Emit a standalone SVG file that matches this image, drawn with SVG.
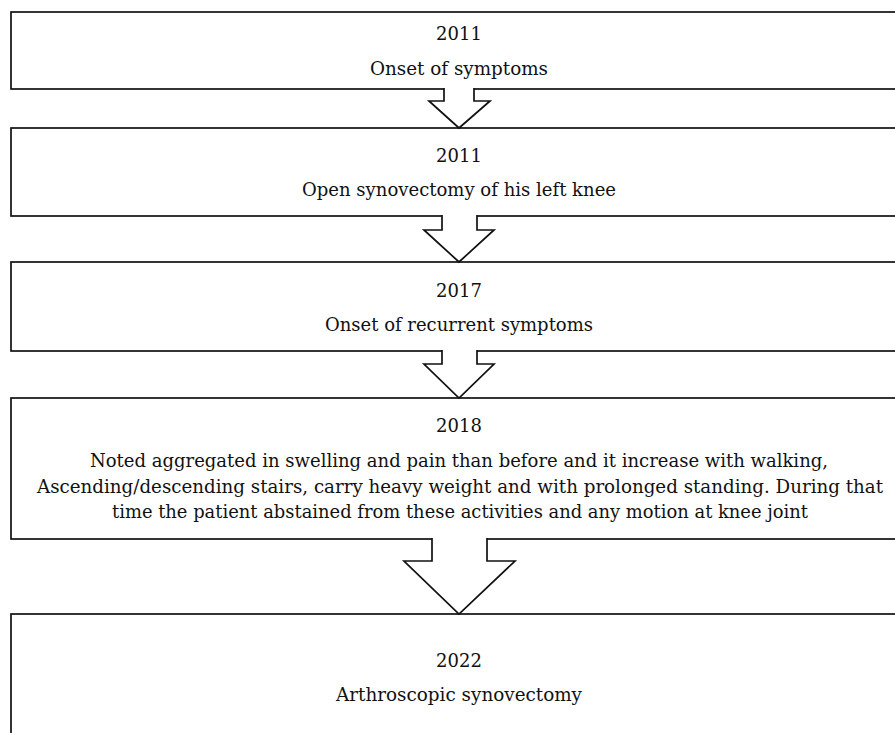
<svg xmlns="http://www.w3.org/2000/svg" width="895" height="733" viewBox="0 0 895 733">
<style>
.box{fill:#fff;stroke:#111;stroke-width:1.7}
.arr{fill:#fff;stroke:#111;stroke-width:1.7;stroke-linejoin:miter}
.gap{fill:#fff;stroke:none}
text{font-family:"DejaVu Serif","Liberation Serif",serif;font-size:18px;fill:#111;text-anchor:middle}
</style>
<rect width="895" height="733" fill="#fff"/>
<g id="node1">
<rect class="box" x="11" y="12" width="900" height="77"/>
<text x="459" y="40">2011</text>
<text x="459" y="75" textLength="178" lengthAdjust="spacingAndGlyphs">Onset of symptoms</text>
</g>
<g id="node2">
<rect class="box" x="11" y="128" width="900" height="88"/>
<text x="459" y="162">2011</text>
<text x="459" y="196" textLength="314" lengthAdjust="spacingAndGlyphs">Open synovectomy of his left knee</text>
</g>
<g id="node3">
<rect class="box" x="11" y="262" width="900" height="89"/>
<text x="459" y="297">2017</text>
<text x="459" y="331" textLength="268" lengthAdjust="spacingAndGlyphs">Onset of recurrent symptoms</text>
</g>
<g id="node4">
<rect class="box" x="11" y="398" width="900" height="141"/>
<text x="459" y="432">2018</text>
<text x="459" y="467" textLength="738" lengthAdjust="spacingAndGlyphs">Noted aggregated in swelling and pain than before and it increase with walking,</text>
<text x="460" y="493" textLength="846" lengthAdjust="spacingAndGlyphs">Ascending/descending stairs, carry heavy weight and with prolonged standing. During that</text>
<text x="460" y="518" textLength="696" lengthAdjust="spacingAndGlyphs">time the patient abstained from these activities and any motion at knee joint</text>
</g>
<g id="node5">
<rect class="box" x="11" y="614" width="900" height="150"/>
<text x="459" y="667">2022</text>
<text x="459" y="701" textLength="246" lengthAdjust="spacingAndGlyphs">Arthroscopic synovectomy</text>
</g>
<g id="connectors">
<rect class="gap" x="444" y="87" width="30" height="4"/>
<path class="arr" d="M444,88 V101 H429 L459,128 L490,101 H474 V88"/>
<rect class="gap" x="442" y="214" width="35" height="4"/>
<path class="arr" d="M442,215 V230 H424 L459,262 L494,230 H477 V215"/>
<rect class="gap" x="442" y="349" width="35" height="4"/>
<path class="arr" d="M442,350 V364 H424 L459,398 L494,364 H477 V350"/>
<rect class="gap" x="432" y="537" width="55" height="4"/>
<path class="arr" d="M432,538 V561 H404 L459,614 L515,561 H487 V538"/>
</g>
</svg>
